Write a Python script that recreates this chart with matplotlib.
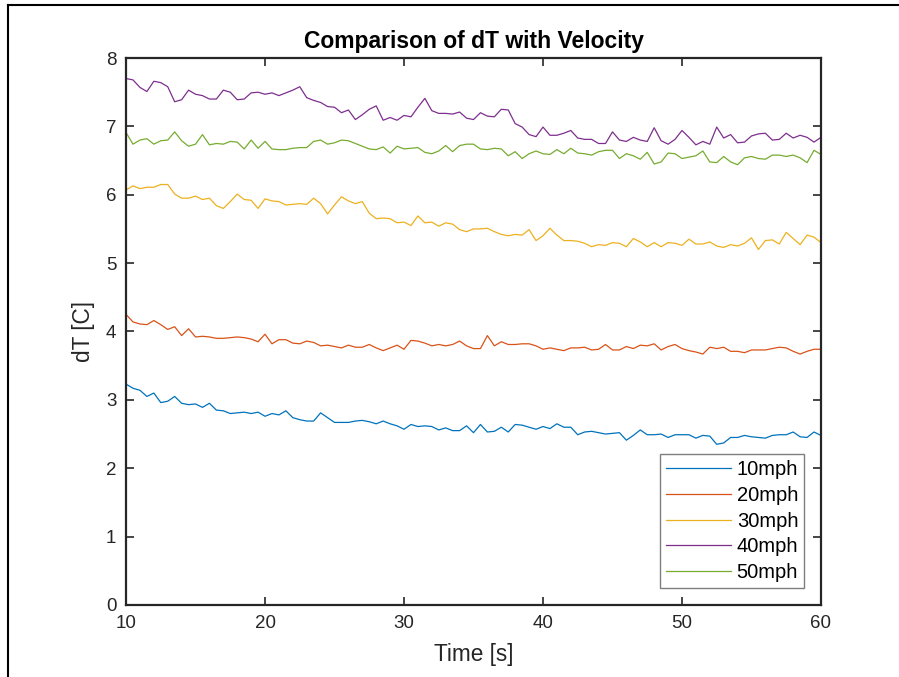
import numpy as np
import matplotlib
matplotlib.use('Agg')
import matplotlib.pyplot as plt
from matplotlib.lines import Line2D

plt.rcParams['font.family'] = ['Liberation Sans', 'DejaVu Sans']

# time axis, sample every 0.5 s
t = np.arange(10, 60.01, 0.5)

dT_10 = [3.23, 3.17, 3.14, 3.05, 3.10, 2.96, 2.98, 3.05, 2.95, 2.93, 2.94, 2.89, 2.95, 2.85, 2.84, 2.80, 2.81,
         2.82, 2.80, 2.82, 2.76, 2.80, 2.78, 2.84, 2.74, 2.71, 2.69, 2.69, 2.81, 2.74, 2.67, 2.67, 2.67, 2.69,
         2.70, 2.68, 2.65, 2.69, 2.65, 2.62, 2.57, 2.64, 2.61, 2.62, 2.61, 2.56, 2.59, 2.55, 2.55, 2.62, 2.52,
         2.64, 2.53, 2.54, 2.60, 2.53, 2.64, 2.63, 2.60, 2.57, 2.61, 2.58, 2.65, 2.60, 2.60, 2.49, 2.53, 2.54,
         2.52, 2.50, 2.51, 2.52, 2.41, 2.48, 2.56, 2.49, 2.49, 2.50, 2.45, 2.49, 2.49, 2.49, 2.44, 2.48, 2.47,
         2.35, 2.37, 2.45, 2.45, 2.48, 2.46, 2.45, 2.44, 2.48, 2.49, 2.49, 2.53, 2.46, 2.45, 2.53, 2.48]

dT_20 = [4.25, 4.14, 4.11, 4.10, 4.16, 4.10, 4.03, 4.07, 3.94, 4.04, 3.92, 3.93, 3.92, 3.90, 3.90, 3.91, 3.92,
         3.91, 3.89, 3.85, 3.96, 3.82, 3.88, 3.88, 3.83, 3.82, 3.86, 3.84, 3.79, 3.80, 3.78, 3.76, 3.80, 3.77,
         3.77, 3.81, 3.76, 3.72, 3.76, 3.80, 3.74, 3.87, 3.86, 3.83, 3.79, 3.81, 3.79, 3.81, 3.86, 3.79, 3.75,
         3.75, 3.94, 3.79, 3.85, 3.81, 3.81, 3.82, 3.82, 3.79, 3.74, 3.76, 3.74, 3.72, 3.76, 3.76, 3.77, 3.73,
         3.74, 3.81, 3.73, 3.73, 3.78, 3.75, 3.80, 3.79, 3.82, 3.73, 3.78, 3.81, 3.75, 3.72, 3.70, 3.67, 3.77,
         3.75, 3.77, 3.71, 3.71, 3.69, 3.73, 3.73, 3.73, 3.75, 3.77, 3.76, 3.71, 3.67, 3.71, 3.74, 3.74]

dT_30 = [6.07, 6.13, 6.09, 6.11, 6.11, 6.15, 6.15, 6.01, 5.95, 5.95, 5.98, 5.93, 5.95, 5.84, 5.80, 5.90, 6.01,
         5.93, 5.92, 5.80, 5.94, 5.91, 5.90, 5.85, 5.86, 5.87, 5.86, 5.95, 5.87, 5.72, 5.85, 5.97, 5.91, 5.87,
         5.90, 5.73, 5.65, 5.66, 5.65, 5.59, 5.60, 5.55, 5.69, 5.59, 5.60, 5.54, 5.59, 5.57, 5.49, 5.46, 5.50,
         5.50, 5.51, 5.46, 5.42, 5.40, 5.42, 5.41, 5.49, 5.33, 5.40, 5.51, 5.41, 5.33, 5.33, 5.32, 5.29, 5.24,
         5.27, 5.26, 5.30, 5.29, 5.24, 5.36, 5.31, 5.24, 5.30, 5.24, 5.30, 5.29, 5.26, 5.35, 5.28, 5.28, 5.31,
         5.25, 5.23, 5.27, 5.25, 5.29, 5.37, 5.20, 5.33, 5.34, 5.28, 5.45, 5.36, 5.27, 5.41, 5.38, 5.30]

dT_40 = [7.70, 7.68, 7.57, 7.51, 7.66, 7.64, 7.58, 7.36, 7.39, 7.53, 7.47, 7.45, 7.40, 7.40, 7.53, 7.50, 7.39,
         7.40, 7.49, 7.50, 7.47, 7.49, 7.45, 7.49, 7.53, 7.58, 7.42, 7.38, 7.35, 7.29, 7.28, 7.20, 7.24, 7.10,
         7.17, 7.25, 7.30, 7.09, 7.13, 7.09, 7.16, 7.14, 7.28, 7.41, 7.23, 7.19, 7.19, 7.18, 7.21, 7.12, 7.10,
         7.20, 7.15, 7.14, 7.25, 7.24, 7.04, 6.99, 6.88, 6.85, 6.99, 6.87, 6.87, 6.90, 6.94, 6.83, 6.81, 6.81,
         6.75, 6.75, 6.92, 6.80, 6.78, 6.84, 6.80, 6.78, 6.98, 6.79, 6.74, 6.81, 6.94, 6.84, 6.73, 6.78, 6.74,
         6.99, 6.83, 6.88, 6.76, 6.77, 6.86, 6.89, 6.90, 6.80, 6.81, 6.90, 6.83, 6.87, 6.84, 6.77, 6.84]

dT_50 = [6.91, 6.74, 6.80, 6.82, 6.74, 6.79, 6.80, 6.92, 6.79, 6.71, 6.74, 6.88, 6.73, 6.75, 6.74, 6.78, 6.77,
         6.67, 6.80, 6.68, 6.78, 6.67, 6.66, 6.66, 6.68, 6.69, 6.69, 6.78, 6.80, 6.74, 6.76, 6.80, 6.79, 6.75,
         6.71, 6.67, 6.66, 6.70, 6.61, 6.71, 6.67, 6.68, 6.69, 6.62, 6.60, 6.64, 6.72, 6.63, 6.72, 6.74, 6.74,
         6.67, 6.66, 6.68, 6.67, 6.57, 6.63, 6.53, 6.60, 6.64, 6.60, 6.59, 6.66, 6.60, 6.68, 6.61, 6.60, 6.58,
         6.63, 6.65, 6.65, 6.53, 6.60, 6.57, 6.52, 6.62, 6.45, 6.48, 6.61, 6.60, 6.53, 6.55, 6.57, 6.64, 6.48,
         6.47, 6.56, 6.48, 6.44, 6.54, 6.56, 6.53, 6.52, 6.58, 6.58, 6.56, 6.58, 6.54, 6.47, 6.65, 6.59]

series = [dT_10, dT_20, dT_30, dT_40, dT_50]
labels = ['10mph', '20mph', '30mph', '40mph', '50mph']
colors = ['#0072BD', '#D95319', '#EDB120', '#7E2F8E', '#77AC30']

fig = plt.figure(figsize=(8.99, 6.77), dpi=100)
ax = fig.add_axes([0.1402, 0.1064, 0.7730, 0.8079])

for y, lab, c in zip(series, labels, colors):
    ax.plot(t, y, color=c, linewidth=0.9, label=lab)

ax.set_xlim(10, 60)
ax.set_ylim(0, 8)
ax.set_xticks([10, 20, 30, 40, 50, 60])
ax.set_yticks(range(0, 9))
ax.tick_params(direction='in', length=6, width=1.2, top=True, right=True,
               labelsize=13.5, colors='#262626', pad=7)
for s in ax.spines.values():
    s.set_linewidth(1.6)
    s.set_color('#262626')

ax.set_title('Comparison of dT with Velocity', fontsize=16.5, fontweight='bold', pad=7)
ax.set_xlabel('Time [s]', fontsize=16.3, color='#262626', labelpad=8)
ax.set_ylabel('dT [C]', fontsize=16.3, color='#262626', labelpad=8)

leg = ax.legend(loc='lower right', bbox_to_anchor=(0.976, 0.031), borderaxespad=0,
                fancybox=False, framealpha=1, edgecolor='#7f7f7f', fontsize=14.5,
                handlelength=3.2, handletextpad=0.3, labelspacing=0.33, borderpad=0.3)
leg.get_frame().set_linewidth(1.0)

# outer frame from the original window
fig.add_artist(Line2D([8 / 899, 8 / 899], [0, 1 - 5 / 677], color='black', linewidth=1.5))
fig.add_artist(Line2D([8 / 899, 1], [1 - 5 / 677, 1 - 5 / 677], color='black', linewidth=1.5))

fig.savefig('out.png', dpi=100)
